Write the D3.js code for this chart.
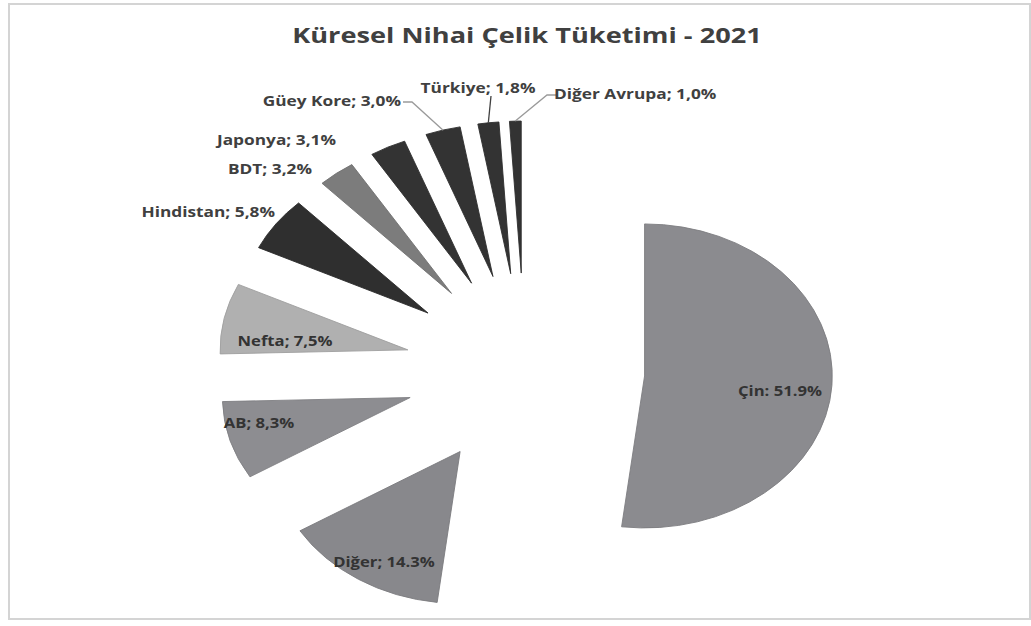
<!DOCTYPE html>
<html>
<head>
<meta charset="utf-8">
<script src="https://cdnjs.cloudflare.com/ajax/libs/d3/7.8.5/d3.min.js"></script>
<style>
  body { margin: 0; background: #fff; }
  svg text { font-family: "Open Sans", "DejaVu Sans", sans-serif; font-weight: bold; }
</style>
</head>
<body>
<div id="chart"></div>
<script>
// data
var categories = ["Çin", "Diğer", "AB", "Nefta", "Hindistan", "BDT", "Japonya", "Güey Kore", "Türkiye", "Diğer Avrupa"];
var shares = [51.9, 14.3, 8.3, 7.5, 5.8, 3.2, 3.1, 3.0, 1.8, 1.0];
var labelTexts = ["Çin: 51.9%", "Diğer; 14.3%", "AB; 8,3%", "Nefta; 7,5%", "Hindistan; 5,8%", "BDT; 3,2%",
                  "Japonya; 3,1%", "Güey Kore; 3,0%", "Türkiye; 1,8%", "Diğer Avrupa; 1,0%"];
var sliceColors = ["#8b8b8f", "#88888c", "#8d8d91", "#b0b0b0", "#2f2f2f", "#7c7c7c", "#333333", "#333333", "#333333", "#333333"];

var W = 1031, H = 626;
var cx = 525, cy = 370, r = 152, sx = 1.235, explode = 97;

// label placement (screen coords), anchor, leader line bend points
var labelLayout = [
  {x: 822, y: 396, anchor: "end"},
  {x: 384, y: 567, anchor: "middle"},
  {x: 259, y: 428, anchor: "middle"},
  {x: 285, y: 346, anchor: "middle"},
  {x: 275, y: 217, anchor: "end"},
  {x: 312, y: 174, anchor: "end"},
  {x: 336, y: 145, anchor: "end"},
  {x: 401, y: 106, anchor: "end", leader: [[412, 102], [403, 102]]},
  {x: 478, y: 93, anchor: "middle", leader: [[491, 96]]},
  {x: 554, y: 99, anchor: "start", leader: [[547, 95], [556, 95]]}
];

var svg = d3.select("#chart").append("svg")
    .attr("width", W)
    .attr("height", H);

svg.append("rect")
    .attr("x", 9).attr("y", 4)
    .attr("width", W - 10).attr("height", 615)
    .attr("fill", "#fff")
    .attr("stroke", "#d4d4d4")
    .attr("stroke-width", 2);

// the picture is stretched sideways, so text is too
svg.append("text")
    .attr("transform", "translate(527,43) scale(" + sx + ",1)")
    .attr("text-anchor", "middle")
    .attr("font-size", 22)
    .attr("fill", "#404040")
    .text("Küresel Nihai Çelik Tüketimi - 2021");

var data = categories.map((c, i) => ({name: c, value: shares[i], label: labelTexts[i], color: sliceColors[i]}));

var pie = d3.pie().sort(null).value(d => d.value);
var arc = d3.arc().innerRadius(0).outerRadius(r);
var arcs = pie(data);

function offsetOf(d) {
  var mid = (d.startAngle + d.endAngle) / 2;
  return [explode * Math.sin(mid), -explode * Math.cos(mid)];
}
function toScreen(p) { return [cx + p[0] * sx, cy + p[1]]; }

var gPie = svg.append("g")
    .attr("transform", "translate(" + cx + "," + cy + ") scale(" + sx + ",1)");

gPie.selectAll("path.slice")
  .data(arcs).enter()
  .append("path")
    .attr("class", "slice")
    .attr("transform", d => "translate(" + offsetOf(d).join(",") + ")")
    .attr("d", arc)
    .attr("fill", d => d.data.color)
    .attr("stroke", d => d3.color(d.data.color).darker(0.3))
    .attr("stroke-width", 0.8);

// leader lines
arcs.forEach((d, i) => {
  var lay = labelLayout[i];
  if (!lay.leader) return;
  var mid = (d.startAngle + d.endAngle) / 2;
  var off = offsetOf(d);
  var start = toScreen([off[0] + r * Math.sin(mid), off[1] - r * Math.cos(mid)]);
  svg.append("path")
    .attr("d", d3.line()([start].concat(lay.leader)))
    .attr("fill", "none")
    .attr("stroke", i == 8 ? "#404040" : "#9a9a9a")
    .attr("stroke-width", 1.3);
});

svg.selectAll("text.lbl")
  .data(arcs).enter()
  .append("text")
    .attr("class", "lbl")
    .attr("transform", (d, i) => "translate(" + labelLayout[i].x + "," + labelLayout[i].y + ") scale(" + sx + ",1)")
    .attr("text-anchor", (d, i) => labelLayout[i].anchor)
    .attr("font-size", (d, i) => i < 4 ? 13.5 : 14)
    .attr("fill", (d, i) => i < 4 ? "#333" : "#404040")
    .text(d => d.data.label);
</script>
</body>
</html>
